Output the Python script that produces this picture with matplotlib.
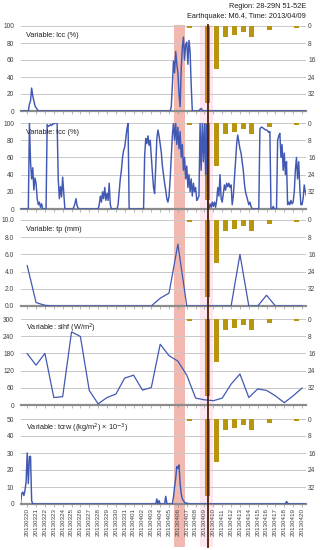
import numpy as np
import matplotlib
matplotlib.use('Agg')
import matplotlib.pyplot as plt
from matplotlib.patches import Rectangle
from matplotlib.lines import Line2D

plt.rcParams['font.family'] = ['Liberation Sans', 'DejaVu Sans']

dates = ['20130320', '20130321', '20130322', '20130323', '20130324', '20130325',
         '20130326', '20130327', '20130328', '20130329', '20130330', '20130331',
         '20130401', '20130402', '20130403', '20130404', '20130405', '20130406',
         '20130407', '20130408', '20130409', '20130410', '20130411', '20130412',
         '20130413', '20130414', '20130415', '20130416', '20130417', '20130418',
         '20130419', '20130420']

# daily series
tp = [4.7, 0.4, 0.08, 0, 0, 0, 0, 0, 0, 0, 0, 0, 0, 0, 0, 0.9, 1.5, 7.2,
      0, 0, 0, 0, 0, 0, 6.0, 0, 0, 1.25, 0, 0, 0, 0]
slhf = [179, 139, 180, 26, 29, 255, 239, 51, 4, 26, 38, 94, 104, 52, 61, 212,
        172, 153, 104, 24, 18, 15, 24, 73, 108, 26, 56, 51, 32, 8, 32, 59]

# 3-hourly series, 6 lead samples before 0320 then 8 per day
lcc = [0, 0, 0, 0, 0, 0,
       0, 0, 8, 12, 27, 18, 12, 6,        # 0320
       4, 2, 0, 0, 0, 0, 0, 0,            # 0321
       0, 0, 0, 0, 0, 0, 0, 0,
       0, 0, 0, 0, 0, 0, 0, 0,
       0, 0, 0, 0, 0, 0, 0, 0,
       0, 0, 0, 0, 0, 0, 0, 0,
       0, 0, 0, 0, 0, 0, 0, 0,
       0, 0, 0, 0, 0, 0, 0, 0,
       0, 0, 0, 0, 0, 0, 0, 0,
       0, 0, 0, 0, 0, 0, 0, 0,
       0, 0, 0, 0, 0, 0, 0, 0,
       0, 0, 0, 0, 0, 0, 0, 0,
       0, 0, 0, 0, 0, 0, 0, 0,
       0, 0, 0, 0, 0, 0, 0, 0,
       0, 0, 0, 0, 0, 0, 0, 0,
       0, 0, 0, 0, 0, 0, 0, 0,            # 0404
       0, 0, 5, 30, 59, 45, 70, 55,       # 0405
       45, 20, 5, 50, 75, 87, 60, 78,     # 0406
       81, 55, 83, 70, 30, 0, 0, 0,       # 0407
       0, 0, 0, 0, 2, 3, 1, 0,            # 0408
       0, 0, 0, 0, 0, 0, 0, 0,
       0, 0, 0, 0, 0, 0, 0, 0,
       0, 0, 0, 0, 0, 0, 0, 0,
       0, 0, 0, 0, 0, 0, 0, 0,
       0, 0, 0, 0, 0, 0, 0, 0,
       0, 0, 0, 0, 0, 0, 0, 0,
       0, 0, 0, 0, 0, 0, 0, 0,
       0, 0, 0, 0, 0, 0, 0, 0,
       0, 0, 0, 0, 0, 0, 0, 0,
       0, 0, 0, 0, 0, 0, 0, 0,
       0, 0, 0, 0, 0, 0, 0, 0,
       0, 0, 0, 0, 0, 0, 0, 0]            # 0420

tcc = [0, 0, 0, 0, 0, 0,
       0, 0, 100, 55, 35, 48, 22, 36,     # 0320
       30, 12, 5, 8, 2, 6, 0, 0,
       0, 0, 98, 96, 97, 98, 97, 99,
       99, 100, 100, 100, 35, 12, 26, 14,
       37, 18, 0, 0, 0, 0, 0, 0,
       0, 0, 2, 6, 12, 4, 1, 0,
       0, 0, 0, 0, 0, 0, 0, 0,
       0, 0, 0, 0, 0, 0, 0, 0,
       0, 5, 15, 8, 20, 12, 25, 10,
       18, 10, 30, 5, 0, 0, 0, 0,
       0, 0, 5, 20, 35, 45, 60, 68,
       72, 82, 93, 100, 0, 0, 0, 0,       # 0331
       0, 0, 0, 0, 0, 0, 0, 0,
       0, 0, 62, 82, 76, 85, 74, 80,
       60, 42, 25, 18, 50, 82, 92, 85,
       75, 66, 50, 40, 30, 22, 12, 8,
       15, 35, 60, 85, 100, 80, 100, 75,
       95, 70, 90, 60, 75, 45, 60, 35,    # 0406
       50, 25, 40, 20, 35, 15, 30, 20,
       25, 10, 12, 15, 100, 45, 100, 55,
       100, 40, 98, 3, 0, 6, 2, 8,        # 0409
       3, 8, 2, 10, 25, 15, 40, 12,
       8, 18, 28, 22, 30, 26, 30, 25,
       28, 5, 15, 35, 55, 75, 86, 78,
       70, 65, 55, 45, 30, 20, 15, 10,
       5, 8, 3, 0, 0, 0, 0, 0,
       0, 0, 93, 95, 95, 94, 93, 92,
       92, 91, 89, 90, 0, 0, 3, 0,
       0, 0, 80, 85, 88, 60, 75, 45,
       65, 40, 55, 5, 8, 5, 10, 6,
       8, 20, 45, 60, 35, 55, 25, 5,
       5, 12, 28, 20, 15, 10, 10, 10]     # 0420

tcrw = [0, 6, 7, 5, 8, 13,
        30, 12, 28, 28, 2, 0, 0, 0,       # 0320
        0, 0, 0, 0, 0, 0, 0, 0,
        0, 0, 0, 0, 0, 0, 0, 0,
        0, 0, 0, 0, 0, 0, 0, 0,
        0, 0, 0, 0, 0, 0, 0, 0,
        0, 0, 0, 0, 0, 0, 0, 0,
        0, 0, 0, 0, 0, 0, 0, 0,
        0, 0, 0, 0, 0, 0, 0, 0,
        0, 0, 0, 0, 0, 0, 0, 0,
        0, 0, 0, 0, 0, 0, 0, 0,
        0, 0, 0, 0, 0, 0, 0, 0,
        0, 0, 0, 0, 0, 0, 0, 0,
        0, 0, 0, 0, 0, 0, 0, 0,
        0, 0, 0, 0, 0, 0, 0, 0,
        0, 0, 0, 0, 0, 3, 0, 2,           # 0403
        0, 0, 0, 0, 0, 4.5, 0.5, 0,
        0, 0, 0, 0, 4, 10, 15, 22,
        21, 23, 12, 6, 3, 2, 1, 0.5,      # 0406
        0.5, 0.3, 0, 0, 0, 0, 0, 0,
        0, 0, 0, 0, 0, 0, 0, 0,
        0, 0, 0, 0, 0, 0, 0, 0,
        0, 0, 0, 0, 0, 0, 0, 0,
        0, 0, 0, 0, 0, 0, 0, 0,
        0, 0, 0, 0, 0, 0, 0, 0,
        0, 0, 0, 0, 0, 0, 0, 0,
        0, 0, 0, 0, 0, 0, 0, 0,
        0, 0, 0, 0, 0, 0, 0, 0,
        0, 0, 0, 0, 0, 0, 0, 0,
        0, 0, 0, 0, 0, 0, 0, 0,
        0, 0, 1.5, 0.5, 0, 0, 0, 0,       # 0418
        0, 0, 0, 0, 0, 0, 0, 0,
        0, 0, 0, 0, 0, 0, 0, 0]

# anomaly bars (right axis, inverted)
bar_dates = ['20130407', '20130409', '20130410', '20130411', '20130412',
             '20130413', '20130414', '20130416', '20130419']
bar_vals = [1, 36, 20, 5, 4, 3, 5, 2, 1]
quake_date = '20130409'
peak_date = '20130406'

blue = '#4159b3'
grid_c = '#c8c8c8'
txt_c = '#404040'

days = np.arange(len(dates))
t3h = np.arange(-6, len(dates) * 8) / 8.0
bar_x = np.array([dates.index(d) for d in bar_dates]) + 0.35
bar_colors = ['#c9870f' if d == quake_date else '#b8950f' for d in bar_dates]

panels = [
    ('Variable: lcc (%)', t3h, lcc, 100, [0, 20, 40, 60, 80, 100], '%d', 1.05),
    ('Variable: tcc (%)', t3h, tcc, 100, [0, 20, 40, 60, 80, 100], '%d', 1.05),
    ('Variable: tp (mm)', days, tp, 10, [0, 2, 4, 6, 8, 10], '%.1f', 0.9),
    ('Variable: slhf (W/m$^2$)', days, slhf, 300, [0, 60, 120, 180, 240, 300], '%d', 0.9),
    ('Variable: tcrw ((kg/m$^2$) × 10$^{-3}$)', t3h, tcrw, 50, [0, 10, 20, 30, 40, 50], '%d', 1.05),
]
tops = [26, 123, 220, 319, 419]
heights = [85, 86, 86, 86, 85]

W, H = 322, 550
fig = plt.figure(figsize=(W / 100, H / 100), dpi=100)
fig.patch.set_facecolor('white')

axes = []
for n, (label, x, y, ymax, yt, fmt, lw) in enumerate(panels):
    top, h = tops[n], heights[n]
    ax = fig.add_axes([21 / W, 1 - (top + h) / H, 285 / W, h / H])
    ax2 = ax.twinx()
    ax.set_zorder(ax2.get_zorder() + 1)
    ax.patch.set_visible(False)

    # right axis: bars + gridlines
    ax2.bar(bar_x, bar_vals, width=0.56, color=bar_colors, zorder=2)
    ax2.set_ylim(40, 0)
    ax2.set_yticks([0, 8, 16, 24, 32, 40])
    ax2.set_yticklabels(['0', '8', '16', '24', '32', ''])
    ax2.yaxis.grid(True, color=grid_c, lw=0.7)
    ax2.set_axisbelow(True)
    ax2.tick_params(axis='y', length=0, pad=1.5, labelsize=4.8, labelcolor=txt_c)

    ax.plot(x, y, color=blue, lw=lw, zorder=3)
    ax.set_xlim(-0.7, 31.45)
    ax.set_ylim(0, ymax)
    ax.set_yticks(yt)
    ax.set_yticklabels([fmt % v for v in yt])
    ax.tick_params(axis='y', length=0, pad=5, labelsize=4.8, labelcolor=txt_c)
    ax.set_xticks(days)
    ax.tick_params(axis='x', length=2, width=0.5, color='#999999', pad=1.2,
                   labelsize=4.5, labelcolor=txt_c)
    if n == len(panels) - 1:
        ax.set_xticklabels(dates, rotation=90)
    else:
        ax.set_xticklabels([])

    for a in (ax, ax2):
        for s in ('top', 'left', 'right'):
            a.spines[s].set_visible(False)
    ax2.spines['bottom'].set_visible(False)
    ax.spines['bottom'].set_color('#8c8c8c')
    ax.spines['bottom'].set_linewidth(1.6)

    ax.text(0.018, 0.89, label, transform=ax.transAxes, fontsize=5.3,
            color='#202020', va='center', ha='left', zorder=5)
    axes.append(ax)


def fig_x(xd):
    ax = axes[0]
    return fig.transFigure.inverted().transform(ax.transData.transform((xd, 0)))[0]


y_top = 1 - 25 / H
y_bot = 1 - 547 / H
pk = dates.index(peak_date)
qk = dates.index(quake_date)

# highlight bands across all panels
x0, x1 = fig_x(pk - 0.4), fig_x(pk + 0.8)
fig.patches.append(Rectangle((x0, y_bot), x1 - x0, y_top - y_bot, transform=fig.transFigure,
                             facecolor='#f2b8b0', edgecolor='none', zorder=-2))
x0, x1 = fig_x(qk - 0.5), fig_x(qk + 1.0)
fig.patches.append(Rectangle((x0, y_bot), x1 - x0, y_top - y_bot, transform=fig.transFigure,
                             facecolor='#fde6f0', edgecolor='none', zorder=-3))

# earthquake line
xq = fig_x(qk + 0.35)
fig.lines.append(Line2D([xq, xq], [y_bot, y_top], transform=fig.transFigure,
                        color='#4a1e0a', lw=1.3, zorder=10))

fig.text(306 / W, 1 - 6.5 / H, 'Region: 28-29N 51-52E', ha='right', va='center',
         fontsize=5.3, color='#202020')
fig.text(306 / W, 1 - 16 / H, 'Earthquake: M6.4, Time: 2013/04/09', ha='right',
         va='center', fontsize=5.3, color='#202020')

fig.savefig('out.png', dpi=100, facecolor='white')
